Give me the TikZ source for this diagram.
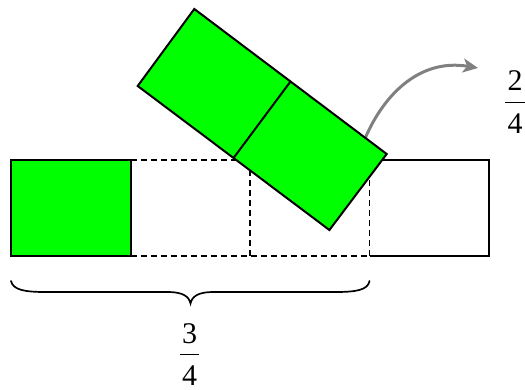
\documentclass[tikz,border=0pt]{standalone}
\usepackage{fontspec}
\setmainfont{Liberation Serif}
\usetikzlibrary{arrows.meta,calc}
\definecolor{brightgreen}{RGB}{0,255,0}
\definecolor{arrowgray}{RGB}{128,128,128}
\begin{document}
\begin{tikzpicture}[x=1pt,y=-1pt,
  solidedge/.style={line width=2pt, line join=miter},
  dashededge/.style={line width=1.8pt, dash pattern=on 6pt off 4pt},
  greenfill/.style={fill=brightgreen, draw=black, line width=2pt, line join=miter},
  digit/.style={font=\fontsize{30}{36}\selectfont, inner sep=0pt, anchor=base},
  fracbar/.style={line width=1pt},
  bracepath/.style={line width=1.7pt, line cap=round},
  curvedarrow/.style={draw=arrowgray, line width=3pt, -{Stealth[length=15pt,width=14pt,inset=4pt]}}
]
\useasboundingbox (0,0) rectangle (525,390);
% bottom row of quarters
\draw[dashededge] (130.5,160) -- (369.5,160);
\draw[dashededge] (130.5,256) -- (369.5,256);
\draw[dashededge] (250,160) -- (250,256);
\draw[dashededge] (369.5,160) -- (369.5,256);
\draw[solidedge] (369.5,160) -- (489,160) -- (489,256) -- (369.5,256);
\draw[greenfill] (11,160) rectangle (130.5,256);
% curved arrow (starts under the tilted piece)
\coordinate (arrowstart) at (364,141);
\coordinate (arrowend) at (478,68);
\draw[curvedarrow] (arrowstart) .. controls (382,97) and (418,58) .. (arrowend);
% tilted two-quarter piece
\coordinate (T) at (194.3,9);
\coordinate (R) at (386.7,154);
\coordinate (B) at (329.4,230);
\coordinate (L) at (137.7,86);
\coordinate (M1) at ($(T)!0.5!(R)$);
\coordinate (M2) at ($(L)!0.5!(B)$);
\filldraw[greenfill] (T) -- (R) -- (B) -- (L) -- cycle;
\draw[solidedge] (M1) -- (M2);
% brace
\draw[bracepath] (11,281) .. controls (13,290) and (25,292) .. (45,292)
  -- (168,292) .. controls (182,292) and (189,296) .. (190.5,303.5)
  .. controls (192,296) and (199,292) .. (213,292)
  -- (336,292) .. controls (356,292) and (368,290) .. (369.5,281);
% fraction 3/4
\node[digit] (three) at (189.7,343.5) {3};
\node[digit] (fourA) at (189.7,385) {4};
\draw[fracbar] (180,354.3) -- (199.4,354.3);
% fraction 2/4
\node[digit] (two) at (515,90.5) {2};
\node[digit] (fourB) at (515,133.5) {4};
\draw[fracbar] (505,102.7) -- (525,102.7);
\end{tikzpicture}
\end{document}
